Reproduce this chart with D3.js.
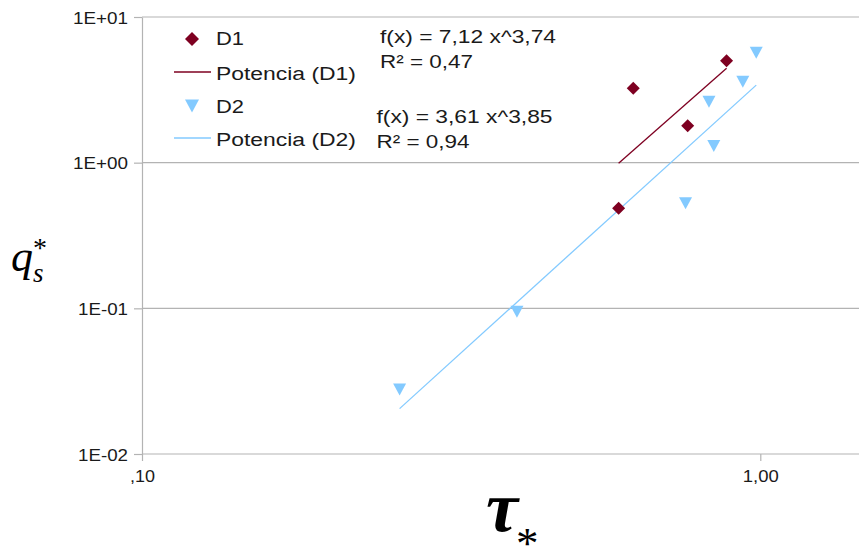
<!DOCTYPE html>
<html>
<head>
<meta charset="utf-8">
<script src="https://cdn.jsdelivr.net/npm/d3@7"></script>
<style>
  html, body { margin: 0; padding: 0; background: #fff; }
  svg { display: block; }
</style>
</head>
<body>
<svg id="chart" width="859" height="546"></svg>
<script>
// ---- data ----
const d1X = [0.590, 0.623, 0.763, 0.882];
const d1Y = [0.486, 3.24, 1.79, 5.01];
const d2X = [0.261, 0.404, 0.757, 0.826, 0.841, 0.937, 0.985];
const d2Y = [0.0277, 0.0949, 0.526, 2.62, 1.30, 3.60, 5.68];
const seriesNames = ["D1", "D2"];
const trendNames = ["Potencia (D1)", "Potencia (D2)"];
const fitCoef = [7.12, 3.61];
const fitExp = [3.74, 3.85];
const eqLines = [["f(x) = 7,12 x^3,74", "R² = 0,47"], ["f(x) = 3,61 x^3,85", "R² = 0,94"]];
const yTicks = [0.01, 0.1, 1, 10];
const yTickLabels = ["1E-02", "1E-01", "1E+00", "1E+01"];
const xTicks = [0.1, 1];
const xTickLabels = [",10", "1,00"];

const colors = ["#7e0021", "#83caff"];
const gridColor = "#b3b3b3";
const textColor = "#1a1a1a";
const sans = "'Liberation Sans', Arial, sans-serif";
const serif = "'Liberation Serif', 'DejaVu Serif', serif";

const svg = d3.select("#chart");
const plotLeft = 142, plotTop = 17, plotBottom = 454;
const decadePx = 618.3;

const x = d3.scaleLog().domain([0.1, 1.5]).range([plotLeft, plotLeft + decadePx * Math.log10(15)]);
const y = d3.scaleLog().domain([0.01, 10]).range([plotBottom, plotTop]);

// gridlines
svg.append("g").selectAll("line").data(yTicks).join("line")
  .attr("x1", plotLeft).attr("x2", 870)
  .attr("y1", d => y(d)).attr("y2", d => y(d))
  .attr("stroke", gridColor).attr("stroke-width", 1.2);

// y axis
const yAxis = svg.append("g").attr("transform", `translate(${plotLeft},0)`)
  .call(d3.axisLeft(y).tickValues(yTicks).tickFormat((d, i) => yTickLabels[i]).tickSize(8).tickSizeOuter(0).tickPadding(6));
yAxis.select(".domain").attr("stroke", gridColor).attr("stroke-width", 1.2);
yAxis.selectAll(".tick line").attr("stroke", gridColor).attr("stroke-width", 1.2);
yAxis.selectAll(".tick text").attr("fill", textColor).style("font-family", sans).style("font-size", "17px")
  .attr("dy", "0.36em")
  .attr("textLength", (d, i) => yTickLabels[i].includes("+") ? 55 : 50)
  .attr("lengthAdjust", "spacingAndGlyphs");

// x axis
const xAxis = svg.append("g").attr("transform", `translate(0,${plotBottom})`)
  .call(d3.axisBottom(x).tickValues(xTicks).tickFormat((d, i) => xTickLabels[i]).tickSize(7).tickSizeOuter(0).tickPadding(9));
xAxis.select(".domain").remove();
xAxis.selectAll(".tick line").attr("stroke", gridColor).attr("stroke-width", 1.2);
xAxis.selectAll(".tick text").attr("fill", textColor).style("font-family", sans).style("font-size", "17px")
  .attr("textLength", (d, i) => i === 0 ? 25 : 36)
  .attr("lengthAdjust", "spacingAndGlyphs");

// trend lines (power fits, from min x to max x of each series)
const xsAll = [d1X, d2X];
const line = d3.line().x(d => x(d[0])).y(d => y(d[1]));
xsAll.forEach((xs, s) => {
  const ends = d3.extent(xs).map(v => [v, fitCoef[s] * Math.pow(v, fitExp[s])]);
  svg.append("path").datum(ends).attr("d", line)
    .attr("fill", "none").attr("stroke", colors[s]).attr("stroke-width", 1.3);
});

// markers
const diamond = r => `M0,${-r}L${r},0L0,${r}L${-r},0Z`;
const triangle = (w, h) => `M${-w},${-h}L${w},${-h}L0,${h}Z`;
svg.append("g").selectAll("path").data(d1X.map((v, i) => [v, d1Y[i]])).join("path")
  .attr("transform", d => `translate(${x(d[0])},${y(d[1])})`)
  .attr("d", diamond(6.5)).attr("fill", colors[0]);
svg.append("g").selectAll("path").data(d2X.map((v, i) => [v, d2Y[i]])).join("path")
  .attr("transform", d => `translate(${x(d[0])},${y(d[1])})`)
  .attr("d", triangle(6.5, 6)).attr("fill", colors[1]);

// legend
const leg = svg.append("g");
const legRows = [
  { type: "diamond", s: 0, label: seriesNames[0], y: 39, base: 45, w: 28 },
  { type: "line", s: 0, label: trendNames[0], y: 72, base: 80, w: 140 },
  { type: "triangle", s: 1, label: seriesNames[1], y: 106, base: 113, w: 28 },
  { type: "line", s: 1, label: trendNames[1], y: 138, base: 146, w: 140 }
];
legRows.forEach(r => {
  if (r.type === "diamond") leg.append("path").attr("transform", `translate(192,${r.y})`).attr("d", diamond(7)).attr("fill", colors[r.s]);
  if (r.type === "triangle") leg.append("path").attr("transform", `translate(192,${r.y})`).attr("d", triangle(7, 6.5)).attr("fill", colors[r.s]);
  if (r.type === "line") leg.append("line").attr("x1", 174).attr("x2", 211).attr("y1", r.y).attr("y2", r.y)
    .attr("stroke", colors[r.s]).attr("stroke-width", 1.3);
  leg.append("text").attr("x", 216).attr("y", r.base).text(r.label)
    .attr("fill", textColor).style("font-family", sans).style("font-size", "18px")
    .attr("textLength", r.w).attr("lengthAdjust", "spacingAndGlyphs");
});

// equations
const eqPos = [{ x: 380, b: [43, 68] }, { x: 376.5, b: [123, 148] }];
eqLines.forEach((lines, s) => {
  lines.forEach((t, k) => {
    svg.append("text").attr("x", eqPos[s].x).attr("y", eqPos[s].b[k]).text(t)
      .attr("fill", textColor).style("font-family", sans).style("font-size", "19px")
      .attr("textLength", k === 0 ? 176 : 93).attr("lengthAdjust", "spacingAndGlyphs");
  });
});

// axis titles (each one text element with tspans)
const yt = svg.append("text").attr("fill", "#000").style("font-family", serif);
yt.append("tspan").attr("x", 11).attr("y", 271).style("font-size", "44px").style("font-style", "italic").text("q");
yt.append("tspan").attr("x", 33).attr("y", 282).style("font-size", "27px").style("font-style", "italic").text("s");
yt.append("tspan").attr("x", 33).attr("y", 257).style("font-size", "28px").text("*");

const xt = svg.append("text").attr("fill", "#000").style("font-family", serif);
xt.append("tspan").attr("x", 486).attr("y", 531).style("font-style", "italic").style("font-weight", "bold")
  .style("font-size", "72px").text("τ");
xt.append("tspan").attr("x", 516).attr("y", 558).style("font-size", "45px").text("*");
</script>
</body>
</html>
